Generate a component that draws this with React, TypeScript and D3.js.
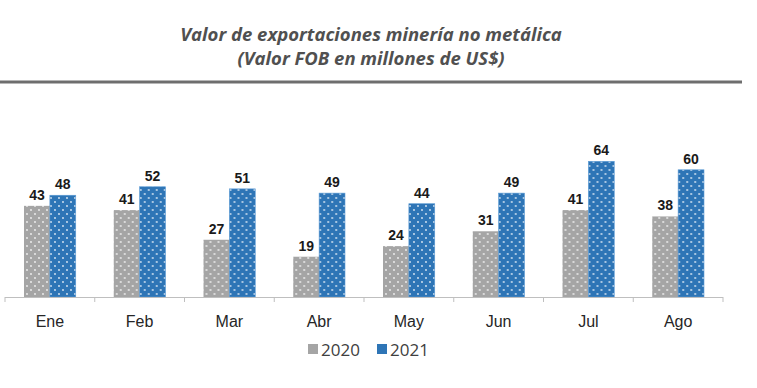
import React from "react";
import * as d3 from "d3";

const months = ["Ene", "Feb", "Mar", "Abr", "May", "Jun", "Jul", "Ago"];
const values2020 = [43, 41, 27, 19, 24, 31, 41, 38];
const values2021 = [48, 52, 51, 49, 44, 49, 64, 60];
const seriesNames = ["2020", "2021"];
const seriesColors = ["#a5a5a5", "#2e75b6"];

const W = 757;
const H = 388;

export default function App() {
  const x = d3.scaleBand<string>().domain(months).range([5, 723]).paddingInner(0).paddingOuter(0);
  const inner = d3
    .scaleBand<string>()
    .domain(seriesNames)
    .range([19, x.bandwidth() - 19])
    .padding(0);
  const y = d3.scaleLinear().domain([0, 70]).range([297, 148.6]);
  const baseY = y(0);

  const series = [values2020, values2021];

  return (
    <svg width={W} height={H} style={{ position: "absolute", left: 0, top: 0, background: "#fff" }}>
      <defs>
        {seriesColors.map((c, i) => (
          <pattern key={i} id={`dots${i}`} width={8} height={8} patternUnits="userSpaceOnUse">
            <rect width={8} height={8} fill={c} />
            <circle cx={2} cy={2} r={0.9} fill="#fff" opacity={0.85} />
            <circle cx={6} cy={6} r={0.9} fill="#fff" opacity={0.85} />
          </pattern>
        ))}
      </defs>

      {/* title */}
      <g fontFamily="'Open Sans', sans-serif" fontWeight="bold" fontStyle="italic" fill="#505050" fontSize={18.5} textAnchor="middle">
        <text x={371} y={41}>Valor de exportaciones minería no metálica</text>
        <text x={371} y={64.5}>(Valor FOB en millones de US$)</text>
      </g>
      <rect x={0} y={80.5} width={742} height={3} fill="#6e6e6e" />

      {/* bars */}
      {months.map((m, mi) => (
        <g key={m} transform={`translate(${x(m)},0)`}>
          {series.map((vals, si) => {
            const bx = inner(seriesNames[si])!;
            const top = y(vals[mi]);
            return (
              <g key={si}>
                <rect
                  x={bx}
                  y={top}
                  width={inner.bandwidth()}
                  height={baseY - top}
                  fill={`url(#dots${si})`}
                  stroke={si === 1 ? "#5b9bd5" : "none"}
                  strokeWidth={si === 1 ? 0.6 : 0}
                />
                <text
                  x={bx + inner.bandwidth() / 2}
                  y={top - 6}
                  textAnchor="middle"
                  fontFamily="'Liberation Sans', Arial, sans-serif"
                  fontWeight="bold"
                  fontSize={14}
                  fill="#1a1a1a"
                >
                  {vals[mi]}
                </text>
              </g>
            );
          })}
          <text
            x={x.bandwidth() / 2}
            y={327}
            textAnchor="middle"
            fontFamily="'Liberation Sans', Arial, sans-serif"
            fontSize={16}
            fill="#262626"
          >
            {m}
          </text>
        </g>
      ))}

      {/* axis */}
      <line x1={5} x2={723} y1={baseY + 0.5} y2={baseY + 0.5} stroke="#bfbfbf" strokeWidth={1} />
      {months.concat(["end"]).map((_, i) => {
        const tx = 5 + i * x.bandwidth();
        return <line key={i} x1={tx} x2={tx} y1={baseY} y2={baseY + 5} stroke="#bfbfbf" strokeWidth={1} />;
      })}

      {/* legend */}
      <g fontFamily="'Open Sans', sans-serif" fontSize={17} fill="#404040">
        <rect x={308} y={344} width={10} height={10} fill={seriesColors[0]} />
        <text x={321} y={356}>{seriesNames[0]}</text>
        <rect x={377} y={344} width={10} height={10} fill={seriesColors[1]} />
        <text x={390} y={356}>{seriesNames[1]}</text>
      </g>
    </svg>
  );
}
